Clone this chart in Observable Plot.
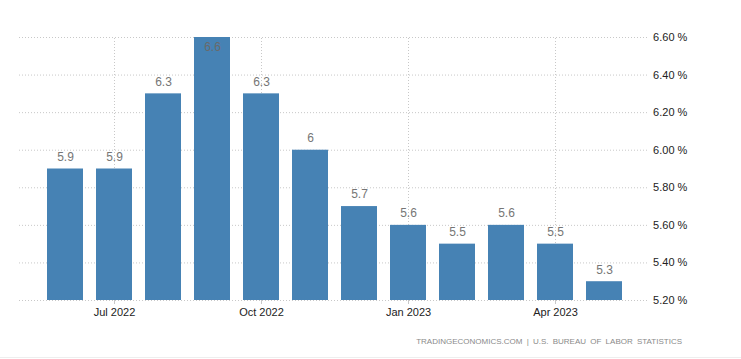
<!DOCTYPE html>
<html>
<head>
<meta charset="utf-8">
<script src="https://cdn.jsdelivr.net/npm/d3@7"></script>
<script src="https://cdn.jsdelivr.net/npm/@observablehq/plot@0.6"></script>
<style>
  html, body { margin: 0; padding: 0; background: #fff; }
  #wrap { width: 741px; height: 359px; position: relative; overflow: hidden; }
  #caption { position: absolute; left: 0; top: 337px; width: 682px; text-align: right;
    font-family: "Liberation Sans", Arial, sans-serif; font-size: 8px; color: #8a8a8a; letter-spacing: 0px; word-spacing: 2px; }
  #bottomline { position: absolute; left: 0; top: 357px; width: 741px; height: 1px; background: #eeeeee; }
</style>
</head>
<body>
<div id="wrap">
  <div id="chart"></div>
  <div id="caption">TRADINGECONOMICS.COM | U.S. BUREAU OF LABOR STATISTICS</div>
  <div id="bottomline"></div>
</div>
<script>
const months = ["Jun 2022","Jul 2022","Aug 2022","Sep 2022","Oct 2022","Nov 2022","Dec 2022","Jan 2023","Feb 2023","Mar 2023","Apr 2023","May 2023"];
const values = [5.9, 5.9, 6.3, 6.6, 6.3, 6.0, 5.7, 5.6, 5.5, 5.6, 5.5, 5.3];
const xTicks = ["Jul 2022","Oct 2022","Jan 2023","Apr 2023"];
const yTicks = [5.2, 5.4, 5.6, 5.8, 6.0, 6.2, 6.4, 6.6];
const yMin = 5.2, yMax = 6.6;

const data = months.map((m, i) => ({month: m, value: values[i]}));
const maxVal = d3.max(values);

const chart = Plot.plot({
  width: 741,
  height: 330,
  marginTop: 37,
  marginBottom: 30,
  marginLeft: 37.5,
  marginRight: 110.4,
  style: {fontFamily: "Liberation Sans, Arial, sans-serif", fontSize: "11px", color: "#222", background: "#fff"},
  x: {domain: months, paddingInner: 0.268, paddingOuter: 0.134, align: 0.5, label: null},
  y: {domain: [yMin, yMax], label: null},
  marks: [
    Plot.ruleY(yTicks, {stroke: "#c8c8c8", strokeDasharray: "1,2", insetLeft: -18.5, insetRight: -18}),
    Plot.ruleX(xTicks, {x: d => d, y1: yMin, y2: yMax, stroke: "#c8c8c8", strokeDasharray: "1,2"}),
    Plot.barY(data, {x: "month", y1: yMin, y2: "value", fill: "#4682b4"}),
    Plot.text(data.filter(d => d.value < maxVal), {x: "month", y: "value", text: d => String(d.value), dy: -12, fill: "#767676", fontSize: 12}),
    Plot.text(data.filter(d => d.value === maxVal), {x: "month", y: "value", text: d => String(d.value), dy: 10, fill: "#6a6a6a", fontSize: 12}),
    Plot.axisX({ticks: xTicks, tickSize: 4, tickPadding: 4, stroke: "#c8c8c8", fill: "#222", fontSize: 11}),
    Plot.axisY({anchor: "right", ticks: yTicks, tickSize: 0, tickPadding: 22, tickFormat: d => d.toFixed(2) + " %", fill: "#222", fontSize: 11})
  ]
});
document.getElementById("chart").appendChild(chart);
</script>
</body>
</html>
